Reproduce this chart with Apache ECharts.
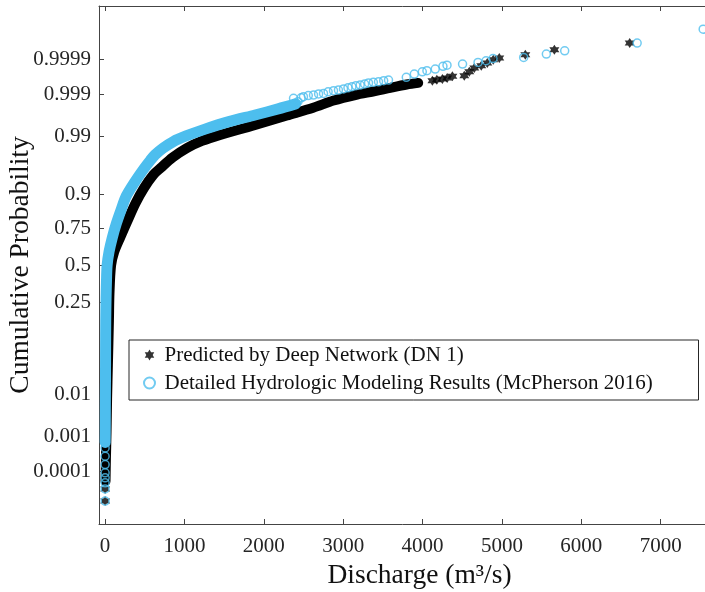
<!DOCTYPE html>
<html>
<head>
<meta charset="utf-8">
<script src="https://cdn.jsdelivr.net/npm/echarts@6/dist/echarts.min.js"></script>
<style>
  html, body { margin: 0; padding: 0; background: #fff; }
  #main { width: 705px; height: 592px; }
</style>
</head>
<body>
<div id="main"></div>
<script>
// probability ticks on the normal-probability axis
var probTicks = [0.0001, 0.001, 0.01, 0.25, 0.5, 0.75, 0.9, 0.99, 0.999, 0.9999];
var probLabels = ['0.0001', '0.001', '0.01', '0.25', '0.5', '0.75', '0.9', '0.99', '0.999', '0.9999'];
var dischargeTicks = [0, 1000, 2000, 3000, 4000, 5000, 6000, 7000];

// Predicted by Deep Network (DN 1) - dense part (normal score, discharge)
var dnBodyZ = [-3.9, -3.5, -3.0, -2.4, -1.8, -1.0, -0.5, 0.0, 0.25, 0.52, 0.8, 1.125, 1.4, 1.64, 1.76, 1.95, 2.12, 2.25, 2.36, 2.53, 2.71, 2.85, 2.98, 3.08, 3.15, 3.21, 3.27, 3.3];
var dnBodyQ = [5, 10, 18, 25, 35, 48, 55, 75, 115, 194, 280, 383, 490, 608, 699, 850, 1029, 1220, 1449, 1869, 2290, 2622, 2878, 3150, 3400, 3593, 3800, 3945];
// sparse points of DN 1
var dnTailZ = [-4.26, -4.04, 3.34, 3.355, 3.37, 3.39, 3.42, 3.43, 3.5, 3.57, 3.61, 3.66, 3.72, 3.75, 3.81, 3.9, 4.02];
var dnTailQ = [0, 0, 4124, 4180, 4250, 4310, 4376, 4526, 4589, 4652, 4740, 4816, 4891, 4967, 5295, 5661, 6610];

// Detailed Hydrologic Modeling Results (McPherson 2016) - dense part
var hmBodyZ = [-3.2, -3.0, -2.5, -2.0, -1.5, -1.0, -0.6, -0.3, 0.0, 0.25, 0.5, 0.75, 1.0, 1.25, 1.5, 1.75, 1.9, 2.0, 2.12, 2.24, 2.34, 2.46, 2.6, 2.72, 2.83, 2.92];
var hmBodyQ = [1, 2, 3, 5, 6, 8, 12, 17, 25, 50, 90, 140, 200, 265, 370, 490, 570, 630, 730, 860, 1020, 1250, 1560, 1890, 2180, 2400];
// sparse points of McPherson 2016
var hmTailZ = [-4.26, -4.04, -3.93, -3.84, -3.75, -3.6, -3.45, -3.3,
  2.96, 3.02, 3.03, 3.05, 3.07, 3.08, 3.1, 3.11, 3.14, 3.16, 3.17, 3.19, 3.21, 3.23, 3.25, 3.26, 3.28, 3.3, 3.31, 3.32, 3.34, 3.35,
  3.4, 3.46, 3.5, 3.52, 3.55, 3.6, 3.62, 3.64, 3.67, 3.7, 3.74, 3.76, 3.82, 3.88, 4.02, 4.27];
var hmTailQ = [0, 0, 0, 0, 0, 0, 0, 0,
  2430, 2374, 2470, 2499, 2560, 2626, 2690, 2752, 2810, 2878, 2940, 3004, 3060, 3110, 3160, 3214, 3270, 3319, 3380, 3445, 3510, 3571,
  3795, 3896, 3997, 4055, 4160, 4257, 4308, 4504, 4699, 4800, 4888, 5274, 5560, 5791, 6704, 7536];

// inverse standard normal cdf (Acklam)
function norminv(p) {
    var a = [-3.969683028665376e+01, 2.209460984245205e+02, -2.759285104469687e+02, 1.383577518672690e+02, -3.066479806614716e+01, 2.506628277459239e+00];
    var b = [-5.447609879822406e+01, 1.615858368580409e+02, -1.556989798598866e+02, 6.680131188771972e+01, -1.328068155288572e+01];
    var c = [-7.784894002430293e-03, -3.223964580411365e-01, -2.400758277161838e+00, -2.549732539343734e+00, 4.374664141464968e+00, 2.938163982698783e+00];
    var d = [7.784695709041462e-03, 3.224671290700398e-01, 2.445134137142996e+00, 3.754408661907416e+00];
    var pl = 0.02425, q, r;
    if (p < pl) {
        q = Math.sqrt(-2 * Math.log(p));
        return (((((c[0]*q+c[1])*q+c[2])*q+c[3])*q+c[4])*q+c[5]) / ((((d[0]*q+d[1])*q+d[2])*q+d[3])*q+1);
    }
    if (p > 1 - pl) {
        q = Math.sqrt(-2 * Math.log(1 - p));
        return -(((((c[0]*q+c[1])*q+c[2])*q+c[3])*q+c[4])*q+c[5]) / ((((d[0]*q+d[1])*q+d[2])*q+d[3])*q+1);
    }
    q = p - 0.5; r = q * q;
    return (((((a[0]*r+a[1])*r+a[2])*r+a[3])*r+a[4])*r+a[5])*q / (((((b[0]*r+b[1])*r+b[2])*r+b[3])*r+b[4])*r+1);
}

function pairs(qs, zs) {
    return qs.map(function (q, i) { return [q, zs[i]]; });
}

var tickPos = probTicks.map(norminv);
var font = 'Liberation Serif';
var hexagram = 'path://M50,0L35.57,25L6.7,25L21.13,50L6.7,75L35.57,75L50,100L64.43,75L93.3,75L78.87,50L93.3,25L64.43,25Z';
var cyan = '#4DBEEE';

var chart = echarts.init(document.getElementById('main'));
chart.setOption({
    backgroundColor: '#fff',
    animation: false,
    grid: { left: 99, top: 6, right: -35, bottom: 68, outerBoundsMode: 'none', containLabel: false },
    legend: {
        orient: 'vertical',
        left: 129, top: 340,
        data: ['Predicted by Deep Network (DN 1)', 'Detailed Hydrologic Modeling Results (McPherson 2016)'],
        backgroundColor: '#fff',
        borderColor: '#262626', borderWidth: 1, borderRadius: 0,
        padding: [4, 12, 6, 14],
        itemGap: 6, itemWidth: 20, itemHeight: 11,
        textStyle: { fontFamily: font, fontSize: 21, color: '#111', lineHeight: 22, width: 522 }
    },
    xAxis: [{
        type: 'value', min: -77, max: 8000,
        name: 'Discharge (m³/s)', nameLocation: 'middle', nameGap: 38, nameMoveOverlap: false,
        nameTextStyle: { fontFamily: font, fontSize: 27.5, color: '#111' },
        splitLine: { show: false },
        axisLine: { onZero: false, lineStyle: { color: '#444' } },
        axisTick: { inside: true, length: 5, customValues: dischargeTicks, lineStyle: { color: '#444' } },
        axisLabel: {
            customValues: dischargeTicks, margin: 12, fontFamily: font, fontSize: 21, color: '#262626',
            formatter: function (v) { return String(Math.round(v)); }
        }
    }, {
        type: 'value', position: 'top', min: -77, max: 8000,
        splitLine: { show: false },
        axisLine: { onZero: false, lineStyle: { color: '#444' } },
        axisTick: { inside: true, length: 5, customValues: dischargeTicks, lineStyle: { color: '#444' } },
        axisLabel: { show: false }
    }],
    yAxis: {
        type: 'value', min: -4.675, max: 4.69,
        name: 'Cumulative Probability', nameLocation: 'middle', nameGap: 64, nameMoveOverlap: false,
        nameTextStyle: { fontFamily: font, fontSize: 27.5, color: '#111' },
        splitLine: { show: false },
        axisLine: { onZero: false, lineStyle: { color: '#444' } },
        axisTick: { inside: true, length: 5, customValues: tickPos, lineStyle: { color: '#444' } },
        axisLabel: {
            customValues: tickPos, margin: 8, fontFamily: font, fontSize: 21, color: '#262626',
            formatter: function (v) {
                var best = 0;
                for (var i = 1; i < tickPos.length; i++) {
                    if (Math.abs(tickPos[i] - v) < Math.abs(tickPos[best] - v)) best = i;
                }
                return probLabels[best];
            }
        }
    },
    series: [{
        name: 'dn-band', type: 'line', symbol: 'none', silent: true, smooth: 0.3,
        data: pairs(dnBodyQ, dnBodyZ),
        lineStyle: { color: '#000', width: 10, cap: 'round', join: 'round' }, z: 2
    }, {
        name: 'Predicted by Deep Network (DN 1)', type: 'scatter',
        symbol: hexagram, symbolSize: 10,
        data: pairs(dnTailQ, dnTailZ),
        itemStyle: { color: '#000' }, z: 3
    }, {
        name: 'hm-band', type: 'line', symbol: 'none', silent: true, smooth: 0.3,
        data: pairs(hmBodyQ, hmBodyZ),
        lineStyle: { color: cyan, width: 11, cap: 'round', join: 'round' }, z: 4
    }, {
        name: 'Detailed Hydrologic Modeling Results (McPherson 2016)', type: 'scatter',
        symbol: 'circle', symbolSize: 8,
        data: pairs(hmTailQ, hmTailZ),
        itemStyle: { color: 'rgba(255,255,255,0)', borderColor: cyan, borderWidth: 1.5 }, z: 5
    }]
});
</script>
</body>
</html>
